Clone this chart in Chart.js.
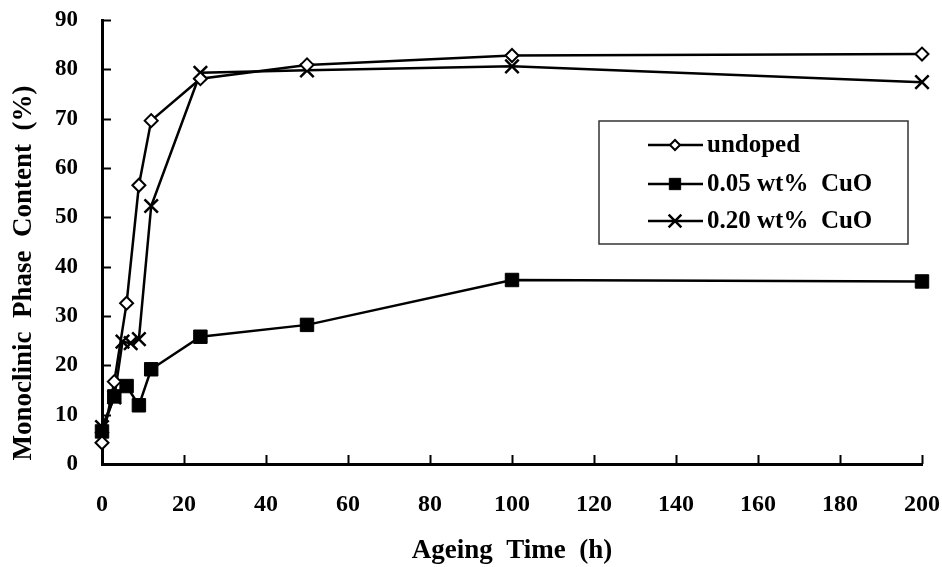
<!DOCTYPE html>
<html>
<head>
<meta charset="utf-8">
<script src="https://cdn.jsdelivr.net/npm/chart.js@4/dist/chart.umd.min.js"></script>
<style>
  html, body { margin: 0; padding: 0; background: #fff; }
  #wrap { width: 942px; height: 567px; }
</style>
</head>
<body>
<div id="wrap"><canvas id="chart" width="942" height="567"></canvas></div>
<script>
// --- data ---
const undopedTime = [0, 3, 6, 9, 12, 24, 50, 100, 200];
const undopedVal  = [4.3, 16.7, 32.6, 56.5, 69.6, 78.1, 80.9, 82.8, 83.1];

const cu005Time = [0, 3, 6, 9, 12, 24, 50, 100, 200];
const cu005Val  = [6.6, 13.7, 15.8, 11.9, 19.2, 25.8, 28.2, 37.3, 37.0];

const cu020Time = [0, 3, 5, 7, 9, 12, 24, 50, 100, 200];
const cu020Val  = [7.5, 13.5, 24.8, 24.5, 25.3, 52.3, 79.3, 79.8, 80.6, 77.4];

const seriesLabels = ["undoped", "0.05 wt%  CuO", "0.20 wt%  CuO"];
const xTitle = "Ageing  Time  (h)";
const yTitle = "Monoclinic  Phase  Content  (%)";
const xMax = 200, xStep = 20;
const yMax = 90, yStep = 10;

const FONT = "'Liberation Serif', 'Times New Roman', serif";
Chart.defaults.font.family = FONT;
Chart.defaults.font.weight = "bold";
Chart.defaults.color = "#000";

const pairs = (xs, ys) => xs.map((x, i) => ({ x: x, y: ys[i] }));

// --- inside tick marks, drawn from the scales ---
const innerTicks = {
  id: "innerTicks",
  afterDatasetsDraw(chart) {
    const { ctx, chartArea, scales } = chart;
    ctx.save();
    ctx.strokeStyle = "#000";
    ctx.lineWidth = 2;
    scales.y.ticks.forEach(t => {
      const y = Math.round(scales.y.getPixelForValue(t.value)) + 0.5;
      ctx.beginPath();
      ctx.moveTo(chartArea.left, y);
      ctx.lineTo(chartArea.left + 9, y);
      ctx.stroke();
    });
    scales.x.ticks.forEach(t => {
      const x = Math.round(scales.x.getPixelForValue(t.value)) + 0.5;
      ctx.beginPath();
      ctx.moveTo(x, chartArea.bottom);
      ctx.lineTo(x, chartArea.bottom - 9);
      ctx.stroke();
    });
    ctx.restore();
  }
};

// y title sits a bit below the axis centre in the original
const yTitlePlugin = {
  id: "yTitlePlugin",
  afterDraw(chart) {
    const ctx = chart.ctx;
    ctx.save();
    ctx.translate(24, 273);
    ctx.rotate(-Math.PI / 2);
    ctx.font = "bold 27px " + FONT;
    ctx.fillStyle = "#000";
    ctx.textAlign = "center";
    ctx.textBaseline = "middle";
    ctx.fillText(yTitle, 0, 0);
    ctx.restore();
  }
};

// --- boxed legend inside the plot ---
const boxLegend = {
  id: "boxLegend",
  afterDraw(chart) {
    const ctx = chart.ctx;
    const box = { x: 599, y: 121, w: 309, h: 123 };
    const rows = [145, 184, 221];
    ctx.save();
    ctx.strokeStyle = "#333";
    ctx.lineWidth = 1.5;
    ctx.strokeRect(box.x, box.y, box.w, box.h);
    chart.data.datasets.forEach((ds, i) => {
      const y = rows[i];
      ctx.strokeStyle = "#000";
      ctx.lineWidth = 2.5;
      ctx.beginPath();
      ctx.moveTo(648, y);
      ctx.lineTo(703, y);
      ctx.stroke();
      ctx.fillStyle = ds.pointBackgroundColor;
      ctx.strokeStyle = "#000";
      ctx.lineWidth = ds.pointBorderWidth;
      Chart.helpers.drawPoint(ctx, {
        pointStyle: ds.pointStyle,
        radius: ds.legendRadius,
        rotation: 0,
        borderWidth: ds.pointBorderWidth
      }, 675, y);
      ctx.fillStyle = "#000";
      ctx.font = "bold 25px " + FONT;
      ctx.textBaseline = "middle";
      ctx.textAlign = "left";
      ctx.fillText(ds.label, 707, y + 1);
    });
    ctx.restore();
  }
};

new Chart(document.getElementById("chart").getContext("2d"), {
  type: "line",
  data: {
    datasets: [
      {
        label: seriesLabels[0],
        data: pairs(undopedTime, undopedVal),
        borderColor: "#000", borderWidth: 2.5,
        pointStyle: "rectRot", pointRadius: 6.5, legendRadius: 5,
        pointBackgroundColor: "#fff", pointBorderColor: "#000", pointBorderWidth: 2,
        clip: false, tension: 0
      },
      {
        label: seriesLabels[1],
        data: pairs(cu005Time, cu005Val),
        borderColor: "#000", borderWidth: 2.5,
        pointStyle: "rect", pointRadius: 9.5, legendRadius: 8,
        pointBackgroundColor: "#000", pointBorderColor: "#000", pointBorderWidth: 1,
        clip: false, tension: 0
      },
      {
        label: seriesLabels[2],
        data: pairs(cu020Time, cu020Val),
        borderColor: "#000", borderWidth: 2.5,
        pointStyle: "crossRot", pointRadius: 9.5, legendRadius: 9,
        pointBackgroundColor: "#000", pointBorderColor: "#000", pointBorderWidth: 2.5,
        clip: false, tension: 0
      }
    ]
  },
  options: {
    responsive: false,
    animation: false,
    layout: { padding: { left: 0, right: 20, top: 20, bottom: 0 } },
    plugins: { legend: { display: false }, tooltip: { enabled: false } },
    scales: {
      x: {
        type: "linear",
        min: 0, max: xMax,
        afterFit: s => { s.height = 103; s.paddingLeft = 0; s.paddingRight = 0; },
        grid: { display: false, drawTicks: false },
        border: { display: true, color: "#000", width: 3 },
        ticks: { stepSize: xStep, padding: 26, font: { size: 24, weight: "bold" }, color: "#000" },
        title: { display: true, text: xTitle, font: { size: 27, weight: "bold" }, color: "#000", padding: { top: 0, bottom: 0 } }
      },
      y: {
        min: 0, max: yMax,
        afterFit: s => { s.width = 102; s.paddingTop = 0; s.paddingBottom = 0; },
        grid: { display: false, drawTicks: false },
        border: { display: true, color: "#000", width: 3 },
        ticks: { stepSize: yStep, padding: 24, font: { size: 23, weight: "bold" }, color: "#000" },
        title: { display: false }
      }
    }
  },
  plugins: [innerTicks, yTitlePlugin, boxLegend]
});
</script>
</body>
</html>
